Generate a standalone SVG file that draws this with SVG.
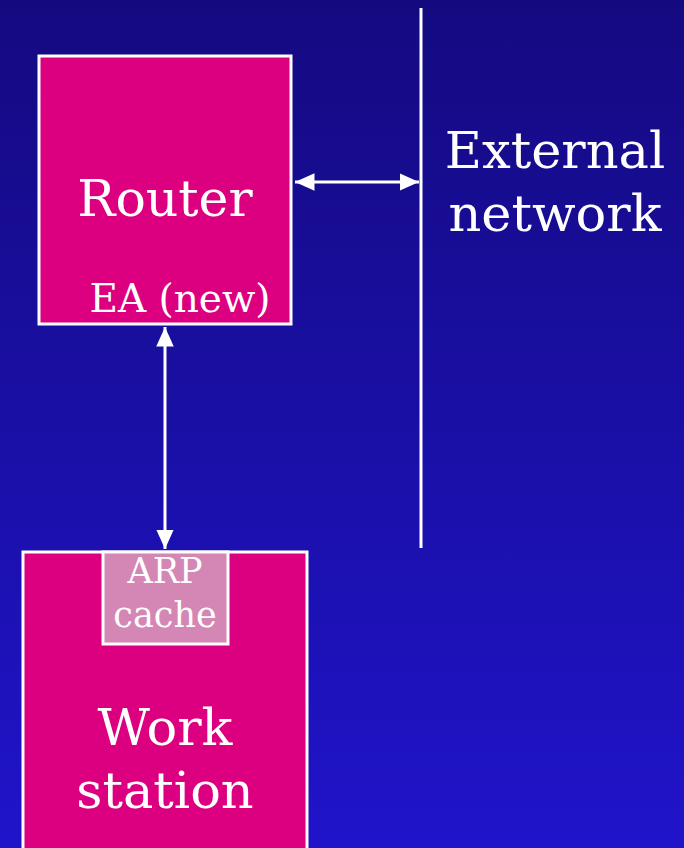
<svg xmlns="http://www.w3.org/2000/svg" width="684" height="848" viewBox="0 0 684 848">
<defs>
<linearGradient id="bg" x1="0" y1="0" x2="0" y2="1">
<stop offset="0" stop-color="#140A80"/>
<stop offset="1" stop-color="#2014CA"/>
</linearGradient>
<marker id="ah" viewBox="0 0 10 10" refX="10" refY="5" markerWidth="6.5" markerHeight="6.5" markerUnits="strokeWidth" orient="auto-start-reverse">
<path d="M0,0.5 L10,5 L0,9.5 z" fill="#fff"/>
</marker>
<style>
.box{fill:#DC0080;stroke:#fff;stroke-width:3}
.t{font-family:"DejaVu Serif",serif;fill:#fff;text-anchor:middle}
.c{stroke:#fff;stroke-width:3;fill:none}
</style>
</defs>
<rect x="0" y="0" width="684" height="848" fill="url(#bg)"/>
<g id="external">
<line x1="421" y1="8" x2="421" y2="548" stroke="#fff" stroke-width="3"/>
<text class="t" x="555" y="168" font-size="51">External</text>
<text class="t" x="555" y="231" font-size="51">network</text>
</g>
<g id="router">
<rect class="box" x="39" y="56" width="252" height="268"/>
<text class="t" x="165" y="216" font-size="50.5">Router</text>
<text class="t" x="180" y="312" font-size="39">EA (new)</text>
</g>
<g id="workstation">
<rect class="box" x="23" y="552" width="284" height="310"/>
<text class="t" x="165" y="745" font-size="51">Work</text>
<text class="t" x="165" y="808" font-size="51">station</text>
</g>
<g id="arpcache">
<rect x="103" y="552" width="125" height="92" fill="#D486B4" stroke="#fff" stroke-width="3"/>
<text class="t" x="165" y="583" font-size="35">ARP</text>
<text class="t" x="165" y="627" font-size="35">cache</text>
</g>
<g id="connectors">
<line class="c" x1="295" y1="182" x2="419" y2="182" marker-start="url(#ah)" marker-end="url(#ah)"/>
<line class="c" x1="165" y1="327" x2="165" y2="549" marker-start="url(#ah)" marker-end="url(#ah)"/>
</g>
</svg>
